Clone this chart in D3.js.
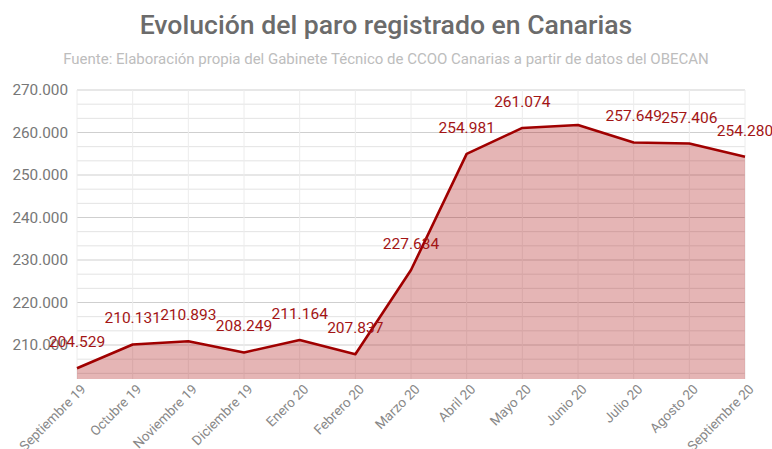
<!DOCTYPE html>
<html>
<head>
<meta charset="utf-8">
<script src="https://cdn.jsdelivr.net/npm/d3@7"></script>
<style>
  body { margin: 0; background: #fff; font-family: Roboto, sans-serif; }
</style>
</head>
<body>
<div class="container"></div>
<script>
const months = ["Septiembre 19", "Octubre 19", "Noviembre 19", "Diciembre 19", "Enero 20", "Febrero 20",
                "Marzo 20", "Abril 20", "Mayo 20", "Junio 20", "Julio 20", "Agosto 20", "Septiembre 20"];
const paro = [204529, 210131, 210893, 208249, 211164, 207837, 227634, 254981, 261074, 261763, 257649, 257406, 254280];
const hiddenLabels = ["Junio 20"];
const yTicks = [210000, 220000, 230000, 240000, 250000, 260000, 270000];

const title = "Evolución del paro registrado en Canarias";
const subtitle = "Fuente: Elaboración propia del Gabinete Técnico de CCOO Canarias a partir de datos del OBECAN";

const width = 772;
const height = 449;
const margin = { top: 90, right: 27, bottom: 70, left: 77 };

const dataSet = months.map((m, i) => ({ month: m, value: paro[i] }));
const fmt = v => d3.format(",")(v).replace(/,/g, ".");

const svg = d3.select(".container").append("svg")
    .attr("width", width)
    .attr("height", height);

const xScale = d3.scalePoint()
    .domain(months)
    .range([margin.left, width - margin.right]);

const yScale = d3.scaleLinear()
    .domain([202000, 270000])
    .range([height - margin.bottom, margin.top]);

// titles
svg.append("text")
    .attr("x", width / 2)
    .attr("y", 34)
    .attr("text-anchor", "middle")
    .attr("font-size", 26.6)
    .attr("font-weight", 500)
    .attr("fill", "#6b6b6b")
    .text(title);

svg.append("text")
    .attr("x", width / 2)
    .attr("y", 64)
    .attr("text-anchor", "middle")
    .attr("font-size", 15)
    .attr("fill", "#bdbdbd")
    .text(subtitle);

// grid
const minor = d3.range(270000, 202000, -10000 / 3);
svg.append("g").selectAll("line")
    .data(minor)
    .enter().append("line")
    .attr("x1", margin.left).attr("x2", width - margin.right)
    .attr("y1", d => yScale(d)).attr("y2", d => yScale(d))
    .attr("stroke", d => (Math.round(d) % 10000 === 0) ? "#cfcfcf" : "#e3e3e3")
    .attr("stroke-width", 1);

svg.append("g").selectAll("line")
    .data(months)
    .enter().append("line")
    .attr("x1", d => xScale(d)).attr("x2", d => xScale(d))
    .attr("y1", margin.top).attr("y2", height - margin.bottom)
    .attr("stroke", "#ececec");

// area + line
const area = d3.area()
    .x(d => xScale(d.month))
    .y0(yScale(202000))
    .y1(d => yScale(d.value));

const line = d3.line()
    .x(d => xScale(d.month))
    .y(d => yScale(d.value));

svg.append("path")
    .datum(dataSet)
    .attr("d", area)
    .attr("fill", "rgba(170,10,10,0.3)");

svg.append("path")
    .datum(dataSet)
    .attr("d", line)
    .attr("fill", "none")
    .attr("stroke", "#a00000")
    .attr("stroke-width", 2.6)
    .attr("stroke-linejoin", "round");

// y axis
const yAxis = d3.axisLeft(yScale).tickValues(yTicks).tickFormat(fmt).tickSize(0).tickPadding(9);
const gy = svg.append("g")
    .attr("id", "y-axis")
    .attr("transform", `translate(${margin.left},0)`)
    .call(yAxis);
gy.select(".domain").remove();
gy.selectAll("text")
    .attr("font-family", "Roboto, sans-serif")
    .attr("font-size", 15.3)
    .attr("fill", "#777");

// x axis
const xAxis = d3.axisBottom(xScale).tickSize(0);
const gx = svg.append("g")
    .attr("id", "x-axis")
    .attr("transform", `translate(0,${height - margin.bottom})`)
    .call(xAxis);
gx.select(".domain").remove();
gx.selectAll("text")
    .attr("font-family", "Roboto, sans-serif")
    .attr("font-size", 13.5)
    .attr("fill", "#888")
    .attr("text-anchor", "end")
    .attr("dy", 0)
    .attr("transform", "translate(7,9) rotate(-45)");

// value labels
svg.append("g").selectAll("text")
    .data(dataSet.filter(d => !hiddenLabels.includes(d.month)))
    .enter().append("text")
    .attr("x", d => xScale(d.month))
    .attr("y", d => yScale(d.value) - 21)
    .attr("text-anchor", "middle")
    .attr("font-size", 15.5)
    .attr("fill", "#a31515")
    .text(d => fmt(d.value));
</script>
</body>
</html>
